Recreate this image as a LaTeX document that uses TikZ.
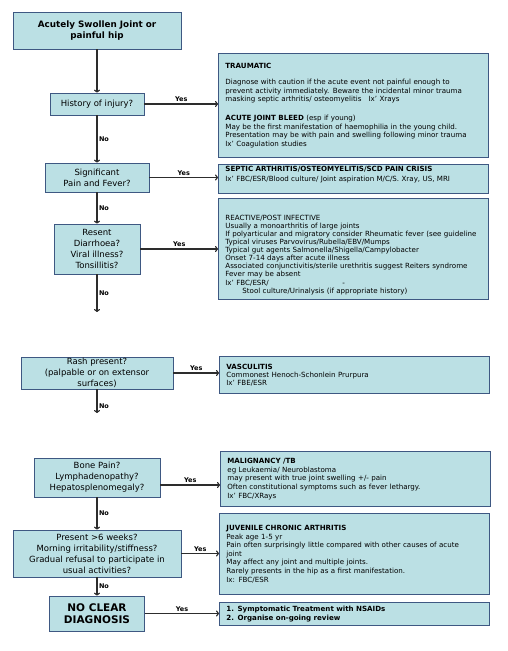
\documentclass[tikz,border=0pt]{standalone}
\usepackage{fontspec}
\setmainfont{DejaVu Sans}
\usetikzlibrary{arrows.meta,positioning}
\definecolor{boxfill}{RGB}{187,224,228}
\definecolor{boxline}{RGB}{62,88,130}
\definecolor{flowline}{RGB}{45,45,45}
\newcommand{\infofont}{\fontsize{7.1}{8.6}\selectfont}
\newcommand{\askfont}{\fontsize{8.5}{11}\selectfont}

\begin{document}
\begin{tikzpicture}[
            x=1pt, y=-1pt,
            start/.style={draw=boxline,fill=boxfill,line width=0.8pt,align=center,inner sep=0pt},
            question/.style={draw=boxline,fill=boxfill,line width=0.8pt,align=center,inner sep=0pt,font=\askfont},
            info/.style={draw=boxline,fill=boxfill,line width=0.8pt,anchor=north west,minimum width=270pt,
                text width=256pt,inner xsep=7pt,inner ysep=2pt,align=left,font=\infofont},
            answer/.style={font=\bfseries\fontsize{6.5}{7}\selectfont,inner sep=1.5pt},
            flow/.style={->,draw=flowline,line width=1.1pt},
            >={To[length=3pt,width=6pt]}
        ]
        \useasboundingbox (0,0) rectangle (508,651);

        % Draw questions %
        \node[start,minimum width=168pt,minimum height=37pt,font=\bfseries\fontsize{8.8}{11}\selectfont]
            (title) at (97,30.5) {Acutely Swollen Joint or\\painful hip};
        \node[question,minimum width=94pt,minimum height=22pt] (history) at (97,104) {History of injury?};
        \node[question,minimum width=104pt,minimum height=29pt] (signif) at (97,177.5) {Significant\\Pain and Fever?};
        \node[question,minimum width=86pt,minimum height=50pt] (resent) at (97,249) {Resent\\Diarrhoea?\\Viral illness?\\Tonsillitis?};
        \node[question,minimum width=152pt,minimum height=32pt] (rash) at (97,373) {Rash present?\\(palpable or on extensor\\surfaces)};
        \node[question,minimum width=126pt,minimum height=39pt] (bone) at (97,477.5) {Bone Pain?\\Lymphadenopathy?\\Hepatosplenomegaly?};
        \node[question,minimum width=168pt,minimum height=47pt] (present) at (97,553.5)
            {Present >6 weeks?\\Morning irritability/stiffness?\\Gradual refusal to participate in\\usual activities?};
        \node[start,minimum width=95pt,minimum height=35pt,font=\bfseries\fontsize{10.5}{12}\selectfont]
            (noclear) at (97,613.5) {NO CLEAR\\DIAGNOSIS};

        % Draw diagnoses %
        \node[info,minimum height=104pt] (trauma) at (218,53) {\textbf{TRAUMATIC}\\[8pt]
            Diagnose with caution if the acute event not painful enough to\\
            prevent activity immediately. Beware the incidental minor trauma\\
            masking septic arthritis/ osteomyelitis\quad Ix' Xrays\\[10pt]
            \textbf{ACUTE JOINT BLEED} (esp if young)\\
            May be the first manifestation of haemophilia in the young child.\\
            Presentation may be with pain and swelling following minor trauma\\
            Ix' Coagulation studies};
        \node[info,minimum height=28pt,font=\fontsize{7.1}{10}\selectfont] (septic) at (218,164)
            {\textbf{SEPTIC ARTHRITIS/OSTEOMYELITIS/SCD PAIN CRISIS}\\
            Ix' FBC/ESR/Blood culture/ Joint aspiration M/C/S. Xray, US, MRI\rule[-10pt]{0pt}{0pt}};
        \node[info,minimum height=101pt,font=\fontsize{7.1}{8.1}\selectfont] (reactive) at (218,198)
            {\rule{0pt}{17pt}REACTIVE/POST INFECTIVE\\
            Usually a monoarthritis of large joints\\
            \makebox[\linewidth][l]{If polyarticular and migratory consider Rheumatic fever (see guideline}\\
            Typical viruses Parvovirus/Rubella/EBV/Mumps\\
            Typical gut agents Salmonella/Shigella/Campylobacter\\
            Onset 7-14 days after acute illness\\
            Associated conjunctivitis/sterile urethritis suggest Reiters syndrome\\
            Fever may be absent\\
            \makebox[117pt][l]{Ix' FBC/ESR/}-\\
            \hspace*{17pt}Stool culture/Urinalysis (if appropriate history)};
        \node[info,minimum height=37pt,font=\fontsize{7.1}{7.8}\selectfont] (vasc) at (219,356) {\textbf{VASCULITIS}\\
            Commonest Henoch-Schonlein Prurpura\\
            Ix' FBE/ESR};
        \node[info,minimum height=55pt] (malig) at (220,451) {\textbf{MALIGNANCY /TB}\\
            eg Leukaemia/ Neuroblastoma\\
            may present with true joint swelling +/- pain\\
            Often constitutional symptoms such as fever lethargy.\\
            Ix' FBC/XRays};
        \node[info,minimum height=81pt] (jca) at (219,513) {\textbf{JUVENILE CHRONIC ARTHRITIS}\\
            Peak age 1-5 yr\\
            Pain often surprisingly little compared with other causes of acute\\
            joint\\
            May affect any joint and multiple joints.\\
            Rarely presents in the hip as a first manifestation.\\
            Ix: FBC/ESR};
        \node[info,minimum height=23pt] (treat) at (219,602) {\textbf{1. Symptomatic Treatment with NSAIDs}\\
            \textbf{2. Organise on-going review}};

        % Free ends %
        \coordinate (resentend) at (97,312);
        \coordinate (rashend) at (97,413);
        \coordinate (bonex) at ([yshift=-7.5pt]bone.east);

        % Draw arrows down %
        \draw[flow] (title) -- (history);
        \draw[flow] (history) -- node[answer,midway,right] {No} (signif);
        \draw[flow] (signif) -- node[answer,midway,right] {No} (resent);
        \draw[flow] (resent) -- node[answer,midway,right] {No} (resentend);
        \draw[flow] (rash) -- node[answer,pos=0.7,right] {No} (rashend);
        \draw[flow] (bone) -- node[answer,midway,right] {No} (present);
        \draw[flow] (present) -- node[answer,midway,right] {No} (noclear);

        % Draw arrows across %
        \draw[flow] (history.east) -- node[answer,above] {Yes} (history.east -| trauma.west);
        \draw[flow] (signif.east) -- node[answer,above] {Yes} (signif.east -| septic.west);
        \draw[flow] (resent.east) -- node[answer,above] {Yes} (resent.east -| reactive.west);
        \draw[flow] (rash.east) -- node[answer,above] {Yes} (rash.east -| vasc.west);
        \draw[flow] (bonex) -- node[answer,above] {Yes} (bonex -| malig.west);
        \draw[flow] (present.east) -- node[answer,above] {Yes} (present.east -| jca.west);
        \draw[flow] (noclear.east) -- node[answer,above] {Yes} (noclear.east -| treat.west);
\end{tikzpicture}
\end{document}
